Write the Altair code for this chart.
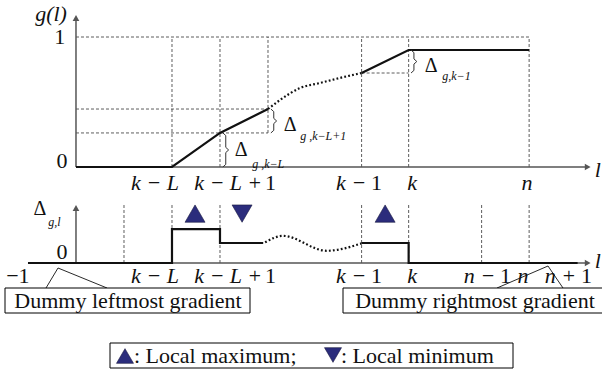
import altair as alt
import pandas as pd

W, H = 602, 390
FONT = "Liberation Serif"
INK = "#111111"
AXIS = "#555555"
GRID = "#333333"
NAVY = "#2B2C7C"

# ---- positions along l (schematic units) ----
L_DOMAIN = [-1.583, 10.958]
ARROW_L = 10.66
POS = {"-1": -1.0, "0": 0.0, "1": 1.0, "k-L": 2.0, "k-L+1": 3.0, "k-L+2": 4.0,
       "k-1": 5.95, "k": 6.93, "n-1": 8.45, "n": 9.44, "n+1": 10.45}

# ---- g(l): solid start, dotted middle, solid end ----
g_left_l = [0, 2, 3, 4]
g_left_v = [0, 0, 0.262, 0.446]
g_mid_l = [4, 4.25, 4.67, 5.08, 5.5, 5.95]
g_mid_v = [0.446, 0.515, 0.608, 0.646, 0.685, 0.723]
g_right_l = [5.95, 6.93, 9.44]
g_right_v = [0.723, 0.9, 0.9]

# ---- gradient Δ_{g,l} as a step function ----
d_left_l = [-1, 2, 2, 3, 3, 3.9]
d_left_v = [0, 0, 0.26, 0.26, 0.154, 0.154]
d_mid_l = [3.94, 4.31, 5.22, 5.95]
d_mid_v = [0.159, 0.209, 0.094, 0.151]
d_right_l = [5.95, 6.93, 6.93, 10.45]
d_right_v = [0.154, 0.154, 0, 0]

# local extrema markers on the gradient plot
ext_l = [2.48, 3.46, 6.44]
ext_shape = ["triangle-up", "triangle-down", "triangle-up"]
EXT_Y = 0.38

# tick labels: italic symbol part and upright digit part (page x, align)
tick_sym = [(155, "k − L", "center"), (262, "k − L +", "right"), (366, "k −", "right"),
            (412, "k", "center")]
tick_num = [(265, "1"), (371, "1")]
top_sym_extra = [(527, "n", "center")]
bot_sym_extra = [(495, "n −", "right"), (523, "n", "center"), (576, "n +", "right")]
bot_num_extra = [(500, "1"), (581, "1")]
TOP_TICK_Y, BOT_TICK_Y = 183, 276

# scales
XL = alt.Scale(domain=L_DOMAIN, range=[0, W])
XP = alt.Scale(domain=[0, W], range=[0, W])
YP = alt.Scale(domain=[0, H], range=[0, H])
YT = alt.Scale(domain=[0, 1], range=[167, 37])
YB = alt.Scale(domain=[0, 1], range=[263, 133])


def enc_xy(xs, ys):
    return dict(x=alt.X("x:Q", scale=xs, axis=None), y=alt.Y("y:Q", scale=ys, axis=None))


def path(xs, ys, xsc, ysc, **mk):
    df = pd.DataFrame({"x": xs, "y": ys, "i": list(range(len(xs)))})
    return alt.Chart(df).mark_line(**mk).encode(order="i:Q", **enc_xy(xsc, ysc))


def segs(rows, xsc, ysc, **mk):
    df = pd.DataFrame(rows, columns=["x", "x2", "y", "y2"])
    return alt.Chart(df).mark_rule(**mk).encode(x2="x2:Q", y2="y2:Q", **enc_xy(xsc, ysc))


def texts(rows, xsc, ysc, **mk):
    df = pd.DataFrame(rows, columns=["x", "y", "t"])
    mk.setdefault("baseline", "middle")
    return alt.Chart(df).mark_text(font=FONT, **mk).encode(text="t:N", **enc_xy(xsc, ysc))


def symbols(rows, xsc, ysc, **mk):
    df = pd.DataFrame(rows, columns=["x", "y", "s"])
    return alt.Chart(df).mark_point(filled=True, opacity=1, **mk).encode(
        shape=alt.Shape("s:N", scale=None, legend=None), **enc_xy(xsc, ysc))


def boxes(rows, **mk):
    df = pd.DataFrame(rows, columns=["x", "x2", "y", "y2"])
    return alt.Chart(df).mark_rect(fill="white", stroke="black", strokeWidth=1,
                                   **mk).encode(x2="x2:Q", y2="y2:Q", **enc_xy(XP, YP))


def brace(x0, y1, y2, w=0.06, e=0.02):
    ym = (y1 + y2) / 2
    xs = [x0, x0 + w, x0 + w, x0 + 2 * w, x0 + w, x0 + w, x0]
    ys = [y1, y1 + e, ym - e, ym, ym + e, y2 - e, y2]
    return xs, ys


def tick_row(sym, num, y):
    out = []
    for align in ["center", "right"]:
        rows = [(x, y, t) for x, t, a in sym if a == align]
        if rows:
            out.append(texts(rows, XP, YP, fontSize=22, fontStyle="italic", align=align, color=INK))
    if num:
        out.append(texts([(x, y, t) for x, t in num], XP, YP, fontSize=22, align="left", color=INK))
    return out


dash = dict(stroke=GRID, strokeWidth=0.8, strokeDash=[3, 2])
P = POS
layers = []

# ---------- upper panel: g(l) ----------
layers.append(segs([
    (P["k-L"], P["k-L"], 0, 1), (P["k-L+1"], P["k-L+1"], 0, 1),
    (P["k-L+2"], P["k-L+2"], 0.262, 1), (P["k-1"], P["k-1"], 0, 1),
    (P["k"], P["k"], 0, 1), (P["n"], P["n"], 0, 1),
    (0, P["n"], 1, 1), (0, P["k-L+2"], 0.262, 0.262), (0, P["k-L+2"], 0.446, 0.446),
    (P["k-1"], P["k"], 0.723, 0.723),
], XL, YT, **dash))
layers.append(segs([(0, ARROW_L, 0, 0), (0, 0, 0, 1.146)], XL, YT, stroke=AXIS, strokeWidth=1.5))
layers.append(symbols([(ARROW_L, 0, "triangle-right"), (0, 1.146, "triangle-up")], XL, YT,
                      size=45, color=AXIS))
layers.append(path(g_left_l, g_left_v, XL, YT, color=INK, strokeWidth=2.2))
layers.append(path(g_mid_l, g_mid_v, XL, YT, color=INK, strokeWidth=2.2,
                   strokeDash=[1.8, 2.2], interpolate="monotone"))
layers.append(path(g_right_l, g_right_v, XL, YT, color=INK, strokeWidth=2.2))

for x0, a, b in [(3.06, 0, 0.262), (4.06, 0.262, 0.446), (6.98, 0.723, 0.9)]:
    bx, by = brace(x0, a, b)
    layers.append(path(bx, by, XL, YT, color=GRID, strokeWidth=1))

layers.append(texts([(3.44, 0.13, "Δ"), (4.46, 0.323, "Δ"), (7.4, 0.777, "Δ")],
                    XL, YT, fontSize=20, color=INK))
layers.append(texts([(3.67, 0.023, "g ,k−L"), (4.67, 0.238, "g ,k−L+1"), (7.63, 0.70, "g,k−1")],
                    XL, YT, fontSize=12, fontStyle="italic", align="left", color=INK))
layers.append(texts([(-0.34, 1, "1"), (-0.29, 0.05, "0")], XL, YT, fontSize=22, color=INK))
layers.append(texts([(-0.52, 14, "g(l)")], XL, YP, fontSize=22, fontStyle="italic", color=INK))
layers.append(texts([(10.87, 170, "l")], XL, YP, fontSize=22, fontStyle="italic", color=INK))
layers += tick_row(tick_sym + top_sym_extra, tick_num, TOP_TICK_Y)

# ---------- lower panel: gradient Δ_{g,l} ----------
layers.append(segs([(P[k], P[k], 0, 0.454) for k in ["1", "k-L", "k-L+1", "k-1", "k", "n-1", "n"]],
                   XL, YB, **dash))
layers.append(segs([(-1, ARROW_L, 0, 0), (0, 0, 0, 0.423)], XL, YB, stroke=AXIS, strokeWidth=1.5))
layers.append(symbols([(ARROW_L, 0, "triangle-right"), (0, 0.423, "triangle-up")], XL, YB,
                      size=45, color=AXIS))
layers.append(path(d_left_l, d_left_v, XL, YB, color=INK, strokeWidth=2.2))
layers.append(path(d_mid_l, d_mid_v, XL, YB, color=INK, strokeWidth=2.2,
                   strokeDash=[1.8, 2.2], interpolate="monotone"))
layers.append(path(d_right_l, d_right_v, XL, YB, color=INK, strokeWidth=2.2))
layers.append(symbols([(x, EXT_Y, s) for x, s in zip(ext_l, ext_shape)], XL, YB,
                      size=400, color=NAVY, stroke="#1a1a40", strokeWidth=0.6))
layers.append(texts([(-0.75, 0.415, "Δ")], XL, YB, fontSize=20, color=INK))
layers.append(texts([(-0.58, 0.315, "g,l")], XL, YB, fontSize=12, fontStyle="italic",
                    align="left", color=INK))
layers.append(texts([(-0.29, 0.085, "0")], XL, YB, fontSize=22, color=INK))
layers.append(texts([(-1.21, BOT_TICK_Y, "−1")], XL, YP, fontSize=22, color=INK))
layers.append(texts([(10.87, 261, "l")], XL, YP, fontSize=22, fontStyle="italic", color=INK))
layers += tick_row(tick_sym + bot_sym_extra, tick_num + bot_num_extra, BOT_TICK_Y)

# ---------- callouts and key ----------
layers.append(path([46, 58, 107], [288, 268, 288], XP, YP, color=INK, strokeWidth=0.9))
layers.append(path([497, 548, 563], [288, 266, 288], XP, YP, color=INK, strokeWidth=0.9))
layers.append(boxes([(5, 250, 288, 313), (343, 610, 288, 313), (110, 513, 343, 368)]))
layers.append(texts([(128, 301, "Dummy leftmost gradient"), (475, 301, "Dummy rightmost gradient")],
                    XP, YP, fontSize=22, color=INK))
layers.append(symbols([(125, 356, "triangle-up"), (333, 355, "triangle-down")], XP, YP,
                      size=290, color=NAVY, stroke="#1a1a40", strokeWidth=0.6))
layers.append(texts([(134, 356, ": Local maximum;"), (341, 356, ": Local minimum")], XP, YP,
                    fontSize=22, align="left", color=INK))

chart = alt.layer(*layers).resolve_scale(x="independent", y="independent").properties(
    width=W, height=H, padding=0, autosize=alt.AutoSizeParams(type="none"),
).configure(font=FONT, background="white", view=alt.ViewConfig(stroke=None))

chart.save("out.html", embed_options={"renderer": "svg", "actions": False})
